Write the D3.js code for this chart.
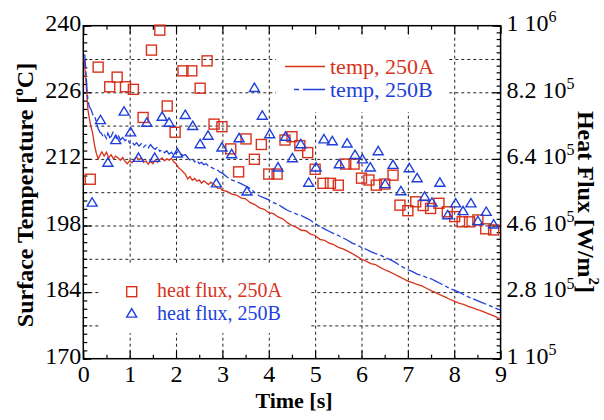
<!DOCTYPE html>
<html>
<head>
<meta charset="utf-8">
<script src="https://cdn.jsdelivr.net/npm/d3@7"></script>
<style>
body { margin: 0; background: #fff; }
text { font-family: "Liberation Serif", "Times New Roman", serif; }
</style>
</head>
<body>
<script>

// temperature traces [time s, temp C]
var tempA = [
    [0.02,233.0],[0.05,229.0],[0.08,225.0],[0.10,222.3],[0.13,220.5],[0.16,219.0],[0.20,217.5],[0.24,215.0],
    [0.28,213.2],[0.32,212.0],[0.36,212.8],[0.40,213.5],[0.45,212.6],[0.50,213.4],[0.55,212.2],[0.60,212.9],
    [0.65,212.0],[0.70,212.6],[0.75,212.2],[0.80,211.7],[0.85,212.3],[0.90,211.5],[0.95,211.0],[1.00,211.6],
    [1.05,211.2],[1.10,211.9],[1.15,212.4],[1.20,211.8],[1.25,212.2],[1.30,211.3],[1.35,211.6],[1.40,210.9],
    [1.45,211.5],[1.50,211.0],[1.55,211.7],[1.60,211.3],[1.65,211.9],[1.70,212.2],[1.75,211.6],[1.80,212.0],
    [1.85,211.7],[1.90,212.1],[1.95,211.4],[2.00,211.0],[2.05,210.2],[2.10,209.8],[2.15,209.3],[2.20,208.8],
    [2.25,207.8],[2.30,208.3],[2.35,207.5],[2.40,207.9],[2.45,207.3],[2.50,207.6],[2.55,206.9],[2.60,207.4],
    [2.65,207.0],[2.70,206.6],[2.75,207.1],[2.80,206.7],[2.85,206.3],[2.90,205.8],[2.95,205.9],[3.00,205.4],
    [3.10,205.2],[3.20,204.6],[3.30,204.4],[3.40,203.8],[3.50,203.6],[3.60,202.8],[3.70,202.4],[3.80,201.7],
    [3.90,201.4],[4.00,200.7],[4.10,200.5],[4.20,199.8],[4.30,199.4],[4.40,198.6],[4.50,198.0],[4.60,197.6],
    [4.70,197.0],[4.80,196.9],[4.90,196.2],[5.00,195.9],[5.10,195.1],[5.20,194.9],[5.30,194.3],[5.40,194.0],
    [5.50,193.4],[5.60,193.1],[5.70,192.6],[5.80,192.1],[5.90,191.5],[6.00,190.9],[6.10,190.5],[6.20,190.0],
    [6.30,189.8],[6.40,189.2],[6.50,188.7],[6.60,188.3],[6.70,187.8],[6.80,187.3],[6.90,186.8],[7.00,186.3],
    [7.10,186.0],[7.20,185.6],[7.30,185.3],[7.40,184.8],[7.50,184.3],[7.60,183.9],[7.70,183.4],[7.80,183.0],
    [7.90,182.5],[8.00,182.1],[8.10,181.7],[8.20,181.4],[8.30,181.0],[8.40,180.7],[8.50,180.3],[8.60,180.0],
    [8.70,179.6],[8.80,179.2],[8.90,178.8],[9.00,178.3]
];

var tempB = [
    [0.03,234.0],[0.06,230.0],[0.08,226.5],[0.10,224.4],[0.13,223.0],[0.17,222.3],[0.21,221.2],[0.25,220.9],
    [0.29,219.3],[0.32,218.4],[0.36,217.6],[0.39,217.4],[0.43,216.6],[0.46,217.0],[0.50,216.3],[0.53,217.4],
    [0.57,216.5],[0.60,216.7],[0.64,217.6],[0.68,217.0],[0.72,216.2],[0.76,216.8],[0.80,216.0],[0.85,216.5],
    [0.90,215.8],[0.95,216.2],[1.00,215.3],[1.05,215.6],[1.10,214.9],[1.15,215.4],[1.20,214.7],[1.25,215.2],
    [1.30,214.5],[1.35,214.9],[1.40,214.3],[1.45,215.0],[1.50,214.4],[1.55,214.0],[1.60,214.5],[1.65,213.6],
    [1.70,213.9],[1.75,213.3],[1.80,213.7],[1.85,213.0],[1.90,213.4],[1.95,212.8],[2.00,213.2],[2.05,213.6],
    [2.10,213.1],[2.15,212.7],[2.20,212.9],[2.25,212.3],[2.30,211.8],[2.35,212.1],[2.40,211.4],[2.45,211.7],
    [2.50,211.0],[2.55,211.3],[2.60,210.8],[2.65,211.0],[2.70,210.5],[2.75,210.3],[2.80,210.0],[2.85,209.8],
    [2.90,209.6],[2.95,209.2],[3.00,209.0],[3.10,208.2],[3.20,207.6],[3.30,207.2],[3.40,206.8],[3.50,206.3],
    [3.60,205.8],[3.70,204.9],[3.80,204.2],[3.90,203.8],[4.00,203.4],[4.10,202.8],[4.20,202.4],[4.30,201.8],
    [4.40,201.2],[4.50,200.8],[4.60,200.4],[4.70,200.1],[4.80,199.6],[4.90,199.1],[5.00,198.4],[5.10,197.8],
    [5.20,197.3],[5.30,196.8],[5.40,196.3],[5.50,195.9],[5.60,195.4],[5.70,194.9],[5.80,194.3],[5.90,193.9],
    [6.00,193.4],[6.10,193.0],[6.20,192.5],[6.30,192.1],[6.40,191.8],[6.50,191.3],[6.60,190.9],[6.70,190.4],
    [6.80,189.8],[6.90,189.2],[7.00,188.7],[7.10,188.3],[7.20,187.8],[7.30,187.5],[7.40,187.1],[7.50,186.8],
    [7.60,186.3],[7.70,185.8],[7.80,185.3],[7.90,184.8],[8.00,184.4],[8.10,184.0],[8.20,183.5],[8.30,183.0],
    [8.40,182.6],[8.50,182.2],[8.60,181.8],[8.70,181.4],[8.80,181.0],[8.90,180.6],[9.00,180.2]
];

// heat flux points [time s, flux W/m2]
var fluxA = [
    [0.15,5.85e5],[0.32,8.88e5],[0.57,8.35e5],[0.73,8.61e5],[0.91,8.35e5],[1.08,8.28e5],[1.29,7.52e5],[1.47,9.34e5],
    [1.65,9.88e5],[1.81,7.83e5],[1.98,7.12e5],[2.15,8.78e5],[2.34,8.78e5],[2.52,8.31e5],[2.67,9.05e5],[2.82,7.34e5],
    [2.99,7.27e5],[3.18,6.67e5],[3.35,6.05e5],[3.51,6.94e5],[3.69,6.39e5],[3.84,6.79e5],[4.00,5.99e5],[4.18,5.99e5],
    [4.35,6.91e5],[4.50,7.00e5],[4.67,6.76e5],[4.84,6.57e5],[5.00,6.12e5],[5.17,5.74e5],[5.33,5.74e5],[5.50,5.69e5],
    [5.66,6.26e5],[5.84,6.26e5],[6.00,5.88e5],[6.16,5.83e5],[6.32,5.69e5],[6.50,5.72e5],[6.68,5.96e5],[6.83,5.15e5],
    [7.00,5.00e5],[7.17,5.24e5],[7.33,5.14e5],[7.49,5.06e5],[7.67,5.20e5],[7.85,4.97e5],[8.01,4.84e5],[8.17,4.70e5],
    [8.33,4.70e5],[8.51,4.75e5],[8.68,4.51e5],[8.85,4.48e5]
];

var fluxB = [
    [0.19,5.22e5],[0.37,7.45e5],[0.53,6.30e5],[0.70,6.91e5],[0.88,7.68e5],[1.02,7.12e5],[1.19,6.43e5],[1.37,7.38e5],
    [1.54,6.43e5],[1.70,7.54e5],[1.85,7.38e5],[2.03,6.55e5],[2.20,7.59e5],[2.36,7.29e5],[2.52,6.80e5],[2.69,7.03e5],
    [2.87,5.74e5],[2.99,6.71e5],[3.20,6.53e5],[3.36,6.96e5],[3.53,5.52e5],[3.69,8.32e5],[3.86,7.57e5],[4.02,7.07e5],
    [4.20,6.17e5],[4.36,7.00e5],[4.51,6.42e5],[4.69,6.80e5],[4.86,5.76e5],[5.02,6.17e5],[5.19,6.93e5],[5.37,6.88e5],
    [5.52,6.26e5],[5.69,6.82e5],[5.86,6.51e5],[6.02,6.39e5],[6.19,6.17e5],[6.36,6.61e5],[6.51,5.72e5],[6.68,6.24e5],
    [6.85,5.53e5],[7.03,6.15e5],[7.20,5.88e5],[7.36,5.38e5],[7.52,5.22e5],[7.69,5.76e5],[7.86,4.88e5],[8.03,5.20e5],
    [8.19,4.99e5],[8.36,5.20e5],[8.51,4.72e5],[8.69,4.97e5],[8.85,4.63e5]
];

var tempTicks = [170, 184, 198, 212, 226, 240];
var fluxTicks = [1e5, 2.8e5, 4.6e5, 6.4e5, 8.2e5, 1e6];
var timeTicks = [0, 1, 2, 3, 4, 5, 6, 7, 8, 9];

var red = "#d8321c";
var blue = "#1e3fdc";

var width = 604, height = 420;
var plotL = 83.3, plotR = 500.6, plotT = 25.7, plotB = 358.7;

var x = d3.scaleLinear().domain([0, 9]).range([plotL, plotR]);
var yT = d3.scaleLinear().domain([170, 240]).range([plotB, plotT]);
var yQ = d3.scaleLinear().domain([1e5, 1e6]).range([plotB, plotT]);

var svg = d3.select("body").append("svg")
    .attr("width", width)
    .attr("height", height);

// dashed grid
svg.append("g")
    .attr("transform", "translate(0," + plotB + ")")
    .call(d3.axisBottom(x).tickValues(d3.range(1, 9)).tickSize(-(plotB - plotT)).tickFormat(""))
    .call(g => g.select(".domain").remove())
    .selectAll("line").attr("stroke", "#222").attr("stroke-dasharray", "3,3");

svg.append("g")
    .attr("transform", "translate(" + plotL + ",0)")
    .call(d3.axisLeft(yT).tickValues(d3.range(177, 239, 7)).tickSize(-(plotR - plotL)).tickFormat(""))
    .call(g => g.select(".domain").remove())
    .selectAll("line").attr("stroke", "#222").attr("stroke-dasharray", "3,3");

// legend backgrounds hide grid
svg.append("rect").attr("x", 276).attr("y", 38).attr("width", 173).attr("height", 74).attr("fill", "#fff");
svg.append("rect").attr("x", 100).attr("y", 264).attr("width", 210).attr("height", 69).attr("fill", "#fff");

// ticks, inward
function styleAxis(g) {
    g.select(".domain").remove();
    g.selectAll("line").attr("stroke", "#000").attr("stroke-width", 1.2);
    g.attr("font-family", null).attr("font-size", 24);
    g.selectAll("text").attr("fill", "#000");
}

svg.append("g").attr("transform", "translate(" + plotL + ",0)")
    .call(d3.axisLeft(yT).tickValues(d3.range(170, 240.01, 1.75)).tickSize(-4).tickFormat(""))
    .call(styleAxis);
svg.append("g").attr("transform", "translate(" + plotL + ",0)")
    .call(d3.axisLeft(yT).tickValues(tempTicks).tickSize(-8).tickPadding(2).tickFormat(d3.format("d")))
    .call(styleAxis)
    .selectAll("text").attr("dy", "0.2em");

svg.append("g").attr("transform", "translate(" + plotR + ",0)")
    .call(d3.axisRight(yQ).tickValues(d3.range(0, 51).map(i => 1e5 + i * 0.18e5)).tickSize(-4).tickFormat(""))
    .call(styleAxis);
var rightAxis = svg.append("g").attr("transform", "translate(" + plotR + ",0)")
    .call(d3.axisRight(yQ).tickValues(fluxTicks).tickSize(-8).tickPadding(6).tickFormat(""))
    .call(styleAxis);
rightAxis.selectAll(".tick text").each(function (d) {
    var exp = Math.floor(Math.log10(d) + 1e-9);
    var mant = +(d / Math.pow(10, exp)).toFixed(1);
    var t = d3.select(this).attr("dy", "0.2em");
    t.text(mant + " 10");
    t.append("tspan").attr("font-size", 16).attr("dy", "-0.55em").text(exp);
});

svg.append("g").attr("transform", "translate(0," + plotT + ")")
    .call(d3.axisTop(x).tickValues(d3.range(0.5, 9, 1)).tickSize(-4).tickFormat(""))
    .call(styleAxis);
svg.append("g").attr("transform", "translate(0," + plotT + ")")
    .call(d3.axisTop(x).tickValues(timeTicks).tickSize(-8).tickFormat(""))
    .call(styleAxis);
svg.append("g").attr("transform", "translate(0," + plotB + ")")
    .call(d3.axisBottom(x).tickValues(d3.range(0.5, 9, 1)).tickSize(-4).tickFormat(""))
    .call(styleAxis);
svg.append("g").attr("transform", "translate(0," + plotB + ")")
    .call(d3.axisBottom(x).tickValues(timeTicks).tickSize(-8).tickPadding(6).tickFormat(d3.format("d")))
    .call(styleAxis);

// frame
svg.append("rect")
    .attr("x", plotL).attr("y", plotT)
    .attr("width", plotR - plotL).attr("height", plotB - plotT)
    .attr("fill", "none").attr("stroke", "#000").attr("stroke-width", 1.5);

// temperature lines
var line = d3.line().x(d => x(d[0])).y(d => yT(d[1]));
svg.append("path").datum(tempA)
    .attr("d", line).attr("fill", "none").attr("stroke", red).attr("stroke-width", 1.3);
svg.append("path").datum(tempB)
    .attr("d", line).attr("fill", "none").attr("stroke", blue).attr("stroke-width", 1.3)
    .attr("stroke-dasharray", "14,3,4,3");

// flux markers
var tri = "M0,-4.8L5,3.6L-5,3.6Z";
svg.append("g").selectAll("rect").data(fluxA).enter()
    .append("rect")
    .attr("x", d => x(d[0]) - 5).attr("y", d => yQ(d[1]) - 5)
    .attr("width", 10).attr("height", 10)
    .attr("fill", "none").attr("stroke", red).attr("stroke-width", 1.4);
svg.append("g").selectAll("path").data(fluxB).enter()
    .append("path")
    .attr("d", tri)
    .attr("transform", d => "translate(" + x(d[0]) + "," + yQ(d[1]) + ")")
    .attr("fill", "none").attr("stroke", blue).attr("stroke-width", 1.4);

// legend, lines
svg.append("line").attr("x1", 285).attr("x2", 325).attr("y1", 66.5).attr("y2", 66.5)
    .attr("stroke", red).attr("stroke-width", 1.3);
svg.append("line").attr("x1", 294).attr("x2", 325).attr("y1", 89.5).attr("y2", 89.5)
    .attr("stroke", blue).attr("stroke-width", 1.3)
    .attr("stroke-dasharray", "22,4,5,4").attr("stroke-dashoffset", 26);
svg.append("text").attr("x", 330).attr("y", 74).attr("font-size", 22).attr("fill", red).text("temp, 250A");
svg.append("text").attr("x", 330).attr("y", 97).attr("font-size", 22).attr("fill", blue).text("temp, 250B");

// legend, markers
svg.append("rect").attr("x", 126.7).attr("y", 286.7).attr("width", 10).attr("height", 10)
    .attr("fill", "none").attr("stroke", red).attr("stroke-width", 1.4);
svg.append("path").attr("d", tri).attr("transform", "translate(131.7,313.5)")
    .attr("fill", "none").attr("stroke", blue).attr("stroke-width", 1.4);
svg.append("text").attr("x", 157).attr("y", 297).attr("font-size", 20).attr("fill", red).text("heat flux, 250A");
svg.append("text").attr("x", 157).attr("y", 319.5).attr("font-size", 20).attr("fill", blue).text("heat flux, 250B");

// axis titles
svg.append("text")
    .attr("x", 294).attr("y", 408)
    .attr("text-anchor", "middle").attr("font-size", 22).attr("font-weight", "bold")
    .text("Time [s]");

var lt = svg.append("text")
    .attr("transform", "translate(33,195) rotate(-90)")
    .attr("text-anchor", "middle").attr("font-size", 24).attr("font-weight", "bold");
lt.append("tspan").text("Surface Temperature [");
lt.append("tspan").attr("font-size", 15).attr("dy", "-0.7em").text("o");
lt.append("tspan").attr("dy", "0.45em").text("C]");

var rt = svg.append("text")
    .attr("transform", "translate(578,202) rotate(90)")
    .attr("text-anchor", "middle").attr("font-size", 24).attr("font-weight", "bold");
rt.append("tspan").text("Heat Flux [W/m");
rt.append("tspan").attr("font-size", 15).attr("dy", "-0.7em").text("2");
rt.append("tspan").attr("dy", "0.45em").text("]");

</script>
</body>
</html>
